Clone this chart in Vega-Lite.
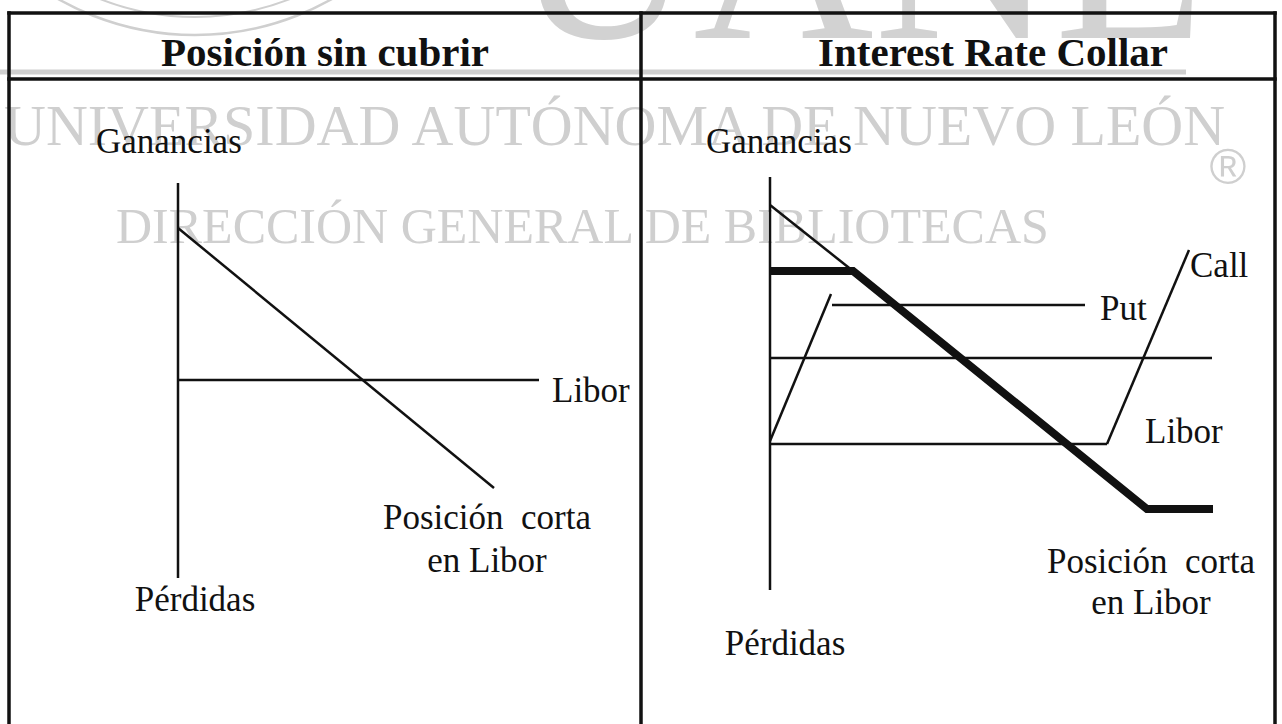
{
  "$schema": "https://vega.github.io/schema/vega-lite/v6.json",
  "width": 1282,
  "height": 724,
  "autosize": {"type": "none"},
  "padding": 0,
  "background": "white",
  "config": {"view": {"stroke": null}},
  "datasets": {
    "segments": [
      {"part": "band", "x": 0, "y": 72, "x2": 1186, "y2": 72},
      {"part": "frame", "x": 9, "y": 13, "x2": 1275, "y2": 13},
      {"part": "frame", "x": 9, "y": 13, "x2": 9, "y2": 724},
      {"part": "frame", "x": 641, "y": 13, "x2": 641, "y2": 724},
      {"part": "frame", "x": 1275, "y": 13, "x2": 1275, "y2": 724},
      {"part": "frame", "x": 9, "y": 79, "x2": 1275, "y2": 79},
      {"part": "thin", "x": 178, "y": 183, "x2": 178, "y2": 578},
      {"part": "thin", "x": 178, "y": 228, "x2": 494, "y2": 488},
      {"part": "thin", "x": 178, "y": 380, "x2": 539, "y2": 380},
      {"part": "thin", "x": 770, "y": 177, "x2": 770, "y2": 590},
      {"part": "thin", "x": 770, "y": 205, "x2": 853, "y2": 271},
      {"part": "thin", "x": 770, "y": 441, "x2": 831, "y2": 294},
      {"part": "thin", "x": 832, "y": 305, "x2": 1085, "y2": 305},
      {"part": "thin", "x": 770, "y": 358, "x2": 1212, "y2": 358},
      {"part": "thin", "x": 770, "y": 444, "x2": 1107, "y2": 444},
      {"part": "thin", "x": 1107, "y": 444, "x2": 1189, "y2": 250}
    ],
    "collar": [
      {"i": 1, "x": 770, "y": 271},
      {"i": 2, "x": 853, "y": 271},
      {"i": 3, "x": 1147, "y": 509},
      {"i": 4, "x": 1213, "y": 509}
    ],
    "seal": [
      {"ring": "outer", "x": 195, "y": -243},
      {"ring": "inner", "x": 195, "y": -243}
    ],
    "labels": [
      {"role": "big", "text": "UANL", "x": 860, "y": 38},
      {"role": "wm1", "text": "UNIVERSIDAD AUTÓNOMA DE NUEVO LEÓN", "x": 4, "y": 145},
      {"role": "wm2", "text": "DIRECCIÓN GENERAL DE BIBLIOTECAS", "x": 116, "y": 243},
      {"role": "reg", "text": "®", "x": 1228, "y": 184},
      {"role": "title", "text": "Posición sin cubrir", "x": 325, "y": 66},
      {"role": "title", "text": "Interest Rate Collar", "x": 993, "y": 66},
      {"role": "left", "text": "Ganancias", "x": 96, "y": 153},
      {"role": "left", "text": "Ganancias", "x": 706, "y": 153},
      {"role": "left", "text": "Libor", "x": 552, "y": 402},
      {"role": "left", "text": "Put", "x": 1100, "y": 320},
      {"role": "left", "text": "Call", "x": 1190, "y": 277},
      {"role": "left", "text": "Libor", "x": 1145, "y": 443},
      {"role": "center", "text": "Posición\u00a0 corta", "x": 487, "y": 529},
      {"role": "center", "text": "en Libor", "x": 487, "y": 572},
      {"role": "center", "text": "Pérdidas", "x": 195, "y": 611},
      {"role": "center", "text": "Posición\u00a0 corta", "x": 1151, "y": 573},
      {"role": "center", "text": "en Libor", "x": 1151, "y": 614},
      {"role": "center", "text": "Pérdidas", "x": 785, "y": 655}
    ]
  },
  "encoding": {
    "x": {"field": "x", "type": "quantitative", "scale": {"domain": [0, 1282], "nice": false, "zero": false}, "axis": null},
    "y": {"field": "y", "type": "quantitative", "scale": {"domain": [0, 724], "nice": false, "zero": false, "reverse": true}, "axis": null}
  },
  "layer": [
    {
      "data": {"name": "seal"},
      "transform": [{"filter": "datum.ring === 'outer'"}],
      "mark": {"type": "point", "shape": "circle", "filled": false, "size": 309136, "stroke": "#cfcfcf", "strokeWidth": 2.5, "opacity": 1}
    },
    {
      "data": {"name": "seal"},
      "transform": [{"filter": "datum.ring === 'inner'"}],
      "mark": {"type": "point", "shape": "circle", "filled": false, "size": 270400, "stroke": "#cfcfcf", "strokeWidth": 2, "opacity": 1}
    },
    {
      "data": {"name": "segments"},
      "transform": [{"filter": "datum.part === 'band'"}],
      "mark": {"type": "rule", "stroke": "#cfcfcf", "strokeWidth": 5},
      "encoding": {"x2": {"field": "x2"}, "y2": {"field": "y2"}}
    },
    {
      "data": {"name": "labels"},
      "transform": [{"filter": "datum.role === 'big'"}],
      "mark": {"type": "text", "font": "Liberation Serif", "fontSize": 250, "align": "center", "baseline": "alphabetic", "color": "#d2d2d2"},
      "encoding": {"text": {"field": "text"}}
    },
    {
      "data": {"name": "labels"},
      "transform": [{"filter": "datum.role === 'wm1'"}],
      "mark": {"type": "text", "font": "Liberation Serif", "fontSize": 58, "align": "left", "baseline": "alphabetic", "color": "#cfcfcf"},
      "encoding": {"text": {"field": "text"}}
    },
    {
      "data": {"name": "labels"},
      "transform": [{"filter": "datum.role === 'wm2'"}],
      "mark": {"type": "text", "font": "Liberation Serif", "fontSize": 50, "align": "left", "baseline": "alphabetic", "color": "#cfcfcf"},
      "encoding": {"text": {"field": "text"}}
    },
    {
      "data": {"name": "labels"},
      "transform": [{"filter": "datum.role === 'reg'"}],
      "mark": {"type": "text", "font": "Liberation Sans", "fontSize": 50, "align": "center", "baseline": "alphabetic", "color": "#cfcfcf"},
      "encoding": {"text": {"field": "text"}}
    },
    {
      "data": {"name": "segments"},
      "transform": [{"filter": "datum.part === 'frame'"}],
      "mark": {"type": "rule", "stroke": "#111111", "strokeWidth": 3.5, "strokeCap": "square"},
      "encoding": {"x2": {"field": "x2"}, "y2": {"field": "y2"}}
    },
    {
      "data": {"name": "segments"},
      "transform": [{"filter": "datum.part === 'thin'"}],
      "mark": {"type": "rule", "stroke": "#111111", "strokeWidth": 2.5},
      "encoding": {"x2": {"field": "x2"}, "y2": {"field": "y2"}}
    },
    {
      "data": {"name": "collar"},
      "mark": {"type": "line", "stroke": "#111111", "strokeWidth": 8, "strokeJoin": "miter", "strokeCap": "butt"},
      "encoding": {"order": {"field": "i", "type": "quantitative"}}
    },
    {
      "data": {"name": "labels"},
      "transform": [{"filter": "datum.role === 'title'"}],
      "mark": {"type": "text", "font": "Liberation Serif", "fontSize": 41, "fontWeight": "bold", "align": "center", "baseline": "alphabetic", "color": "#111111"},
      "encoding": {"text": {"field": "text"}}
    },
    {
      "data": {"name": "labels"},
      "transform": [{"filter": "datum.role === 'left'"}],
      "mark": {"type": "text", "font": "Liberation Serif", "fontSize": 35, "align": "left", "baseline": "alphabetic", "color": "#111111"},
      "encoding": {"text": {"field": "text"}}
    },
    {
      "data": {"name": "labels"},
      "transform": [{"filter": "datum.role === 'center'"}],
      "mark": {"type": "text", "font": "Liberation Serif", "fontSize": 35, "align": "center", "baseline": "alphabetic", "color": "#111111"},
      "encoding": {"text": {"field": "text"}}
    }
  ]
}
